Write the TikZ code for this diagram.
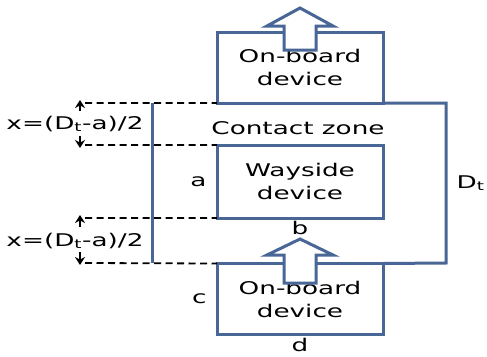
\documentclass[tikz,border=0pt]{standalone}
\usepackage{fontspec}
\setmainfont[FakeStretch=1.5]{DejaVu Sans}
\usetikzlibrary{arrows.meta, positioning}
\definecolor{boxblue}{RGB}{72,102,150}

\begin{document}
\begin{tikzpicture}[
    x=1pt, y=-1pt,
    node distance = 5pt and 5pt,
    punkt/.style = {rectangle, draw=boxblue, line width=3pt, outer sep=0pt,
                    minimum width=166pt, minimum height=71pt, align=center},
    wall/.style = {draw=boxblue, line width=3pt},
    pil/.style = {black, line width=2pt, -{Stealth[length=8pt,width=10pt]}},
    strek/.style = {black, line width=1.8pt, dash pattern=on 7pt off 4.5pt},
    bigpil/.style = {draw=boxblue, fill=white, line width=3pt, line join=miter},
    font=\fontsize{17.5}{23}\selectfont
    ]
  \useasboundingbox (0,0) rectangle (487,356);

  % devices
  \node[punkt] (top) at (300,67.5) {On-board\\device} ;
  \node[punkt, minimum height=73pt] (wayside) at (300,181.5) {Wayside\\device} ;
  \node[punkt] (bottom) at (300,299) {On-board\\device} ;

  % contact zone frame
  \coordinate (ztl) at (152,103) ;
  \coordinate (zbl) at (152,263) ;
  \coordinate (ztr) at (446,103) ;
  \coordinate (zbr) at (446,263) ;

  % dimension lines
  \coordinate (d1) at (85,103) ;
  \coordinate (d2) at (85,145) ;
  \coordinate (d3) at (85,218) ;
  \coordinate (d4) at (85,263) ;
  \draw[strek] (d1) -- (top.south west)
               (d2) -- (wayside.north west)
               (d3) -- (wayside.south west)
               (d4) -- (bottom.north west) ;

  \draw[wall] (top.south east) -- (ztr) -- (zbr) -- (bottom.north east) ;
  \draw[wall] (ztl) -- (zbl) ;

  % arrows
  \draw[bigpil] (284,50) -- (284,26) -- (267,26) -- (300,8) -- (333,26)
                -- (316,26) -- (316,50) -- cycle ;
  \draw[bigpil] (284,283) -- (284,255) -- (267,255) -- (300,239) -- (333,255)
                -- (316,255) -- (316,283) -- cycle ;

  \coordinate (u1s) at (80,111) ; \coordinate (u1e) at (80,100) ;
  \coordinate (n1s) at (80,136) ; \coordinate (n1e) at (80,148) ;
  \coordinate (u2s) at (80,227) ; \coordinate (u2e) at (80,215) ;
  \coordinate (n2s) at (80,252) ; \coordinate (n2e) at (80,265) ;
  \draw[pil] (u1s) -- (u1e) ;
  \draw[pil] (n1s) -- (n1e) ;
  \draw[pil] (u2s) -- (u2e) ;
  \draw[pil] (n2s) -- (n2e) ;

  % labels
  \node (x1) at (75,124) {x=(D\textsubscript{t}-a)/2} ;
  \node (x2) at (75,241) {x=(D\textsubscript{t}-a)/2} ;
  \node (zone) at (298,128) {Contact zone} ;
  \node (a) [left=7pt of wayside] {a} ;
  \node (b) [below=0pt of wayside] {b} ;
  \node (c) [left=7pt of bottom] {c} ;
  \node (d) [below=0pt of bottom] {d} ;
  \node[anchor=west] (Dt) at (453,183) {D\textsubscript{t}} ;

\end{tikzpicture}
\end{document}
